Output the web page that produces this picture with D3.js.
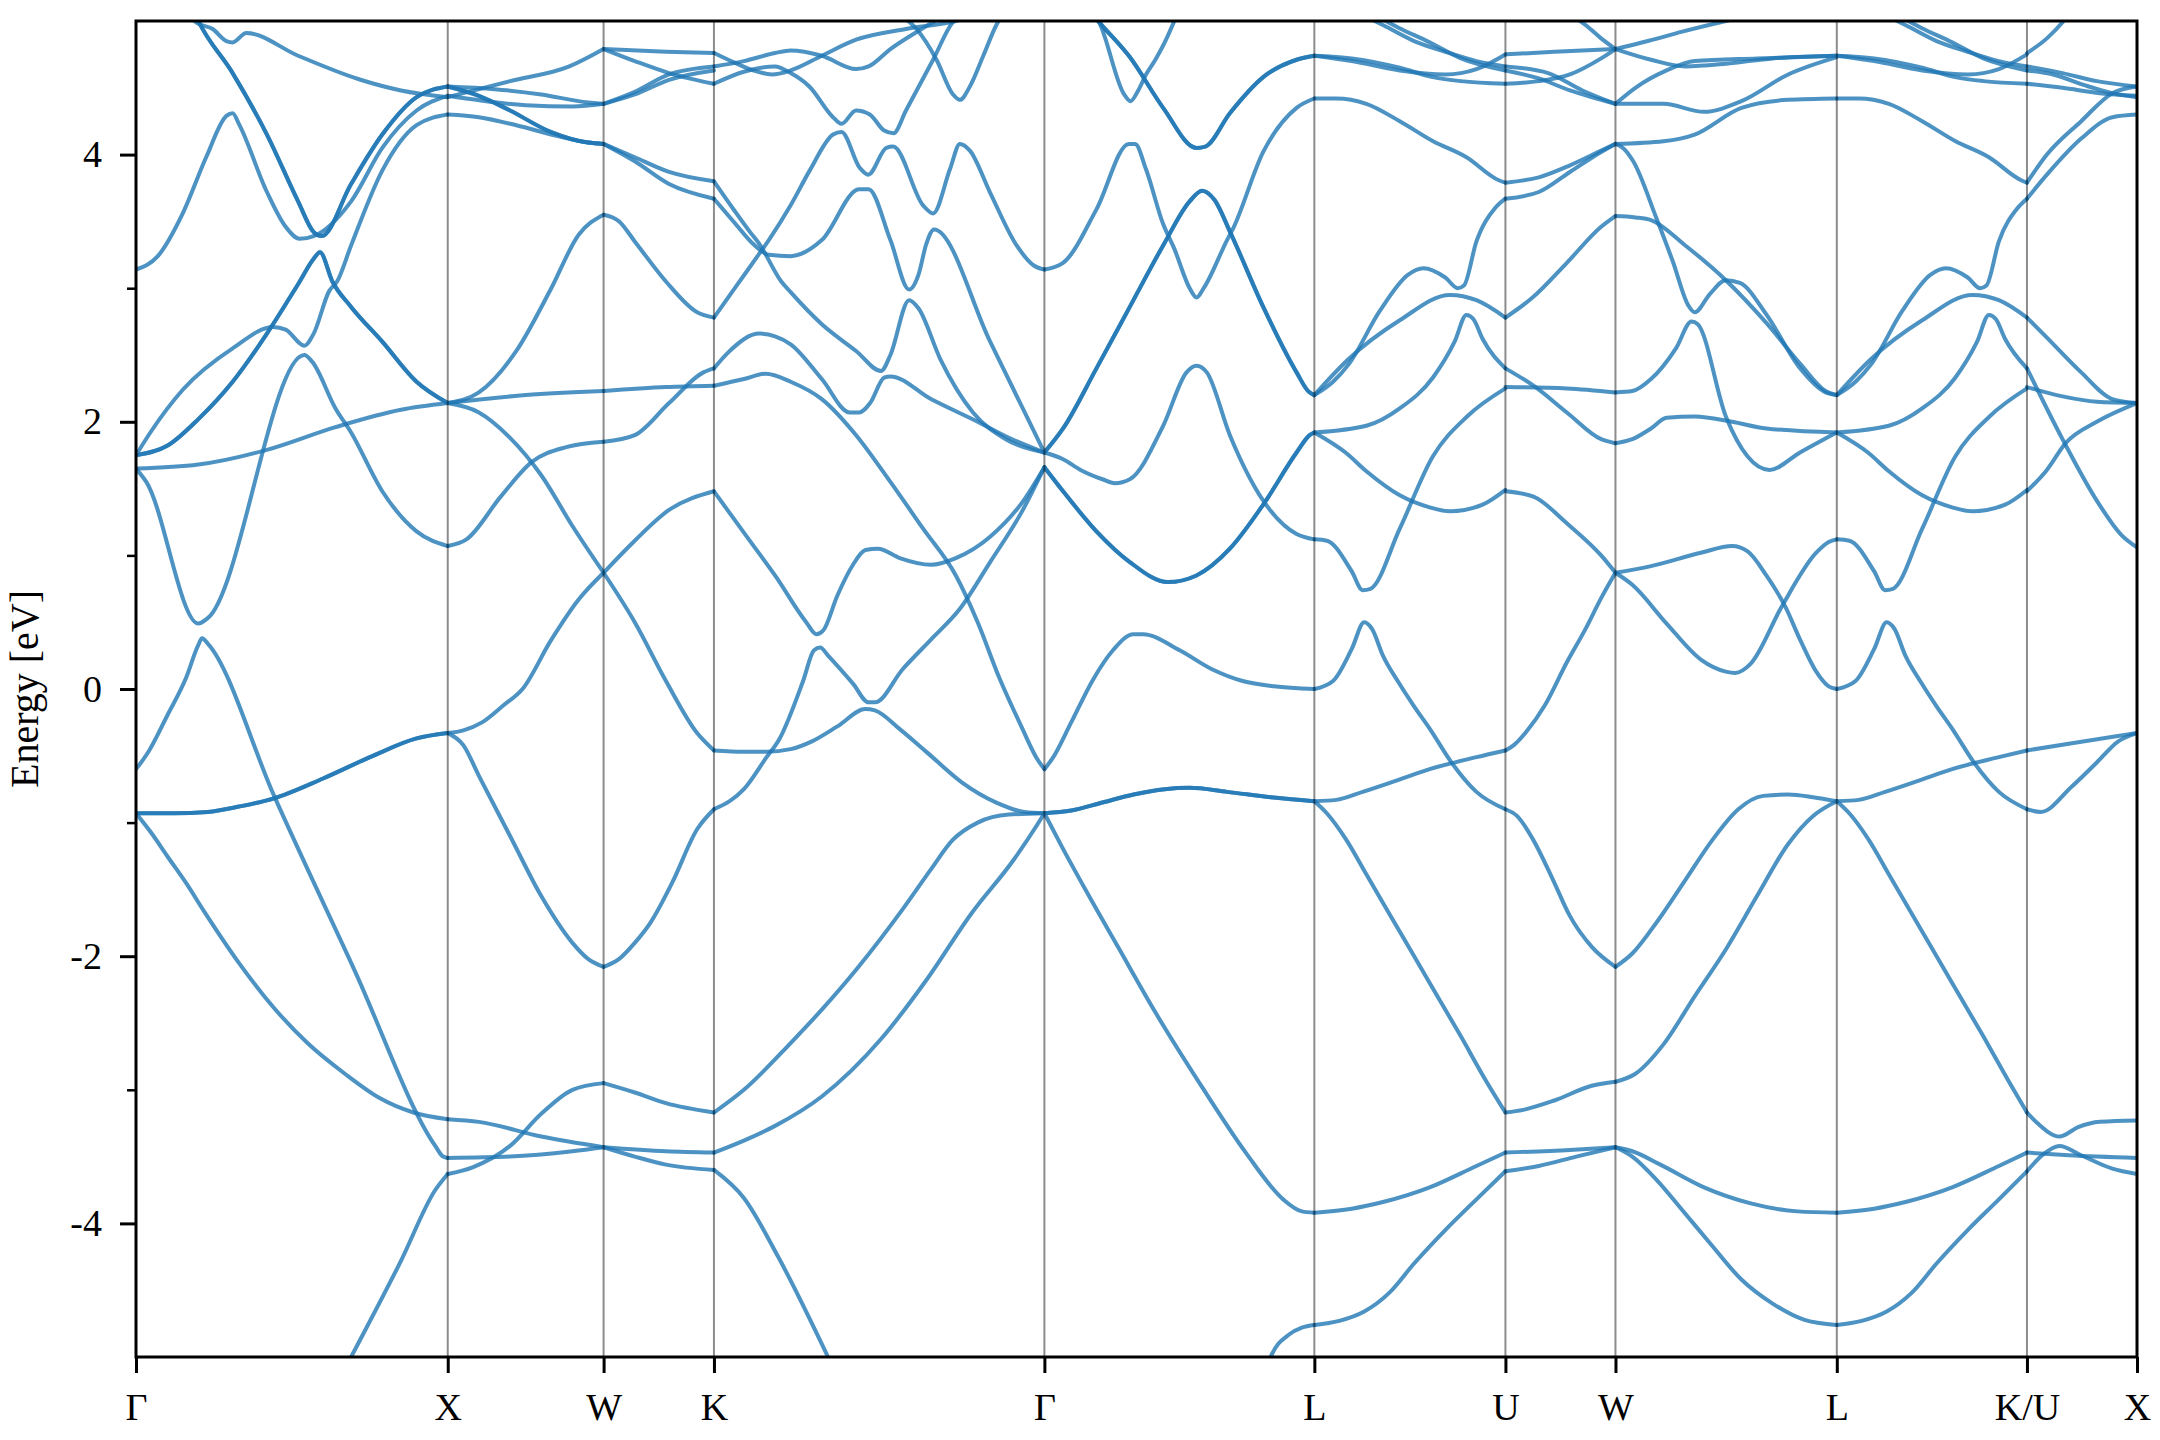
<!DOCTYPE html>
<html><head><meta charset="utf-8">
<script src="https://cdn.jsdelivr.net/npm/d3@7"></script>
<style>body{margin:0;background:#fff;} svg{display:block;} text{font-family:"Liberation Serif","Times New Roman",serif;}</style>
</head><body><svg id="c" width="2160" height="1440"></svg>
<script>
// ---- data ----
const kLabels = ["Γ","X","W","K","Γ","L","U","W","L","K/U","X"];
const kTicks  = [0, 1.0, 1.5, 1.854, 2.914, 3.78, 4.393, 4.746, 5.456, 6.066, 6.419];
const energyTicks = [-4,-2,0,2,4];
const energyMinor = [-3,-1,1,3];
const energyRange = [-5,5];
const yLabel = "Energy [eV]";

// band pieces: m = degeneracy (number of overlapping bands), p = [k, E] points
const bandsGX = [
 {m:2,p:[[0,-0.93],[0.12,-0.93],[0.23,-0.92],[0.33,-0.88],[0.44,-0.82],[0.6,-0.67],[0.76,-0.5],[0.9,-0.37],[1,-0.33]]},
 {m:1,p:[[0,-0.93],[0.05,-1.08],[0.1,-1.25],[0.16,-1.45],[0.22,-1.67],[0.33,-2.05],[0.44,-2.38],[0.55,-2.65],[0.67,-2.88],[0.78,-3.06],[0.89,-3.17],[1,-3.22]]},
 {m:1,p:[[0,-0.6],[0.04,-0.47],[0.1,-0.2],[0.16,0.08],[0.2,0.33],[0.212,0.38],[0.23,0.34],[0.443,-0.8],[0.7,-2.1],[0.96,-3.42],[0.985,-3.5],[1,-3.51]]},
 {m:1,p:[[0.6,-5.4],[0.69,-5.0],[0.85,-4.28],[0.96,-3.75],[1,-3.63]]},
 {m:1,p:[[0,1.65],[0.033,1.55],[0.2,0.49],[0.23,0.53],[0.54,2.5],[0.565,2.45],[0.64,2.1],[0.69,1.92],[0.79,1.48],[0.9,1.18],[1,1.07]]},
 {m:1,p:[[0,1.65],[0.2,1.68],[0.42,1.79],[0.64,1.96],[0.85,2.09],[1,2.14]]},
 {m:2,p:[[0,1.75],[0.1,1.82],[0.2,2.02],[0.31,2.3],[0.42,2.66],[0.52,3.03],[0.57,3.22],[0.59,3.27],[0.63,3.05],[0.69,2.86],[0.79,2.6],[0.9,2.3],[1,2.14]]},
 {m:1,p:[[0,1.75],[0.046,1.92],[0.15,2.24],[0.31,2.55],[0.44,2.71],[0.48,2.69],[0.54,2.57],[0.57,2.66],[0.62,2.98],[0.645,3.05],[0.69,3.32],[0.79,3.88],[0.9,4.22],[1,4.30]]},
 {m:1,p:[[0,3.14],[0.07,3.24],[0.15,3.56],[0.225,3.98],[0.29,4.29],[0.31,4.31],[0.33,4.23],[0.42,3.72],[0.48,3.46],[0.525,3.37],[0.57,3.39],[0.69,3.65],[0.79,4.05],[0.9,4.33],[1,4.44]]},
 {m:2,p:[[0.19,5.05],[0.2,5.0],[0.31,4.61],[0.42,4.15],[0.52,3.65],[0.57,3.42],[0.595,3.39],[0.69,3.78],[0.79,4.15],[0.9,4.43],[1,4.51]]},
 {m:1,p:[[0.17,5.05],[0.193,4.99],[0.246,4.94],[0.29,4.85],[0.31,4.84],[0.354,4.91],[0.52,4.74],[0.72,4.56],[0.85,4.48],[1,4.43]]}
];
const bandsXW = [
 {m:1,p:[[1,4.43],[1.2,4.55],[1.39,4.66],[1.5,4.79]]},
 {m:1,p:[[1,4.51],[1.15,4.49],[1.3,4.45],[1.45,4.39],[1.5,4.38]]},
 {m:1,p:[[1,4.44],[1.25,4.37],[1.4,4.36],[1.5,4.38]]},
 {m:2,p:[[1,4.51],[1.1,4.44],[1.2,4.33],[1.33,4.17],[1.45,4.09],[1.5,4.08]]},
 {m:1,p:[[1,4.30],[1.1,4.28],[1.22,4.22],[1.35,4.14],[1.45,4.09],[1.5,4.08]]},
 {m:1,p:[[1,2.14],[1.1,2.22],[1.22,2.53],[1.33,2.99],[1.42,3.4],[1.5,3.55]]},
 {m:1,p:[[1,2.14],[1.25,2.2],[1.5,2.23]]},
 {m:1,p:[[1,1.07],[1.06,1.12],[1.17,1.44],[1.27,1.7],[1.38,1.81],[1.5,1.85]]},
 {m:1,p:[[1,2.14],[1.1,2.07],[1.2,1.88],[1.3,1.6],[1.4,1.22],[1.5,0.87]]},
 {m:1,p:[[1,-0.33],[1.05,-0.31],[1.11,-0.25],[1.18,-0.12],[1.24,0.0],[1.33,0.36],[1.42,0.67],[1.5,0.87]]},
 {m:1,p:[[1,-0.33],[1.05,-0.42],[1.1,-0.65],[1.2,-1.1],[1.3,-1.55],[1.4,-1.9],[1.45,-2.02],[1.5,-2.08]]},
 {m:1,p:[[1,-3.22],[1.1,-3.24],[1.3,-3.35],[1.5,-3.43]]},
 {m:1,p:[[1,-3.51],[1.2,-3.5],[1.4,-3.46],[1.5,-3.43]]},
 {m:1,p:[[1,-3.63],[1.08,-3.58],[1.2,-3.42],[1.3,-3.18],[1.4,-3.0],[1.5,-2.95]]}
];
const bandsWK = [
 {m:1,p:[[1.5,4.79],[1.7,4.77],[1.854,4.76]]},
 {m:1,p:[[1.5,4.79],[1.6,4.7],[1.71,4.61],[1.854,4.53]]},
 {m:1,p:[[1.5,4.38],[1.6,4.47],[1.71,4.6],[1.854,4.66]]},
 {m:1,p:[[1.5,4.38],[1.6,4.45],[1.71,4.56],[1.854,4.63]]},
 {m:1,p:[[1.5,4.08],[1.6,3.98],[1.71,3.87],[1.854,3.80]]},
 {m:1,p:[[1.5,4.08],[1.6,3.95],[1.71,3.78],[1.854,3.67]]},
 {m:1,p:[[1.5,3.55],[1.55,3.5],[1.6,3.35],[1.7,3.05],[1.8,2.82],[1.854,2.78]]},
 {m:1,p:[[1.5,2.23],[1.7,2.26],[1.854,2.27]]},
 {m:1,p:[[1.5,1.85],[1.6,1.9],[1.71,2.14],[1.82,2.37],[1.854,2.4]]},
 {m:1,p:[[1.5,0.87],[1.6,1.11],[1.71,1.34],[1.854,1.48]]},
 {m:1,p:[[1.5,0.87],[1.6,0.5],[1.7,0.06],[1.8,-0.33],[1.854,-0.46]]},
 {m:1,p:[[1.5,-2.08],[1.55,-2.02],[1.6,-1.9],[1.65,-1.75],[1.72,-1.45],[1.8,-1.05],[1.854,-0.9]]},
 {m:1,p:[[1.5,-2.95],[1.6,-3.02],[1.7,-3.1],[1.854,-3.17]]},
 {m:1,p:[[1.5,-3.43],[1.7,-3.46],[1.854,-3.47]]},
 {m:1,p:[[1.5,-3.43],[1.6,-3.5],[1.7,-3.56],[1.854,-3.6]]}
];
const bandsKG = [
 {m:1,p:[[1.854,4.76],[1.9,4.71],[1.98,4.63],[2.04,4.6],[2.1,4.63],[2.2,4.74],[2.31,4.86],[2.47,4.94],[2.63,5.0],[2.7,5.05]]},
 {m:1,p:[[1.854,4.66],[1.95,4.7],[2.05,4.76],[2.1,4.78],[2.2,4.74],[2.31,4.64],[2.35,4.66],[2.42,4.79],[2.52,4.94],[2.6,5.05]]},
 {m:1,p:[[1.854,4.53],[1.95,4.62],[2.05,4.66],[2.1,4.61],[2.16,4.51],[2.236,4.28],[2.263,4.23],[2.31,4.33],[2.354,4.3],[2.4,4.18],[2.43,4.16],[2.47,4.33],[2.557,4.71],[2.62,4.99],[2.65,5.05]]},
 {m:1,p:[[2.45,5.05],[2.504,4.94],[2.568,4.71],[2.621,4.45],[2.643,4.41],[2.675,4.51],[2.718,4.74],[2.76,4.97],[2.78,5.05]]},
 {m:1,p:[[1.854,2.78],[1.93,3.03],[2.0,3.26],[2.03,3.36],[2.1,3.62],[2.161,3.88],[2.236,4.15],[2.263,4.17],[2.322,3.9],[2.349,3.85],[2.407,4.05],[2.429,4.06],[2.525,3.62],[2.557,3.56],[2.611,3.89],[2.643,4.08],[2.675,4.03],[2.739,3.72],[2.825,3.32],[2.88,3.17],[2.914,3.14]]},
 {m:1,p:[[1.854,3.80],[1.92,3.58],[1.97,3.42],[2.0,3.33],[2.07,3.05],[2.1,2.97],[2.2,2.73],[2.31,2.53],[2.39,2.38],[2.42,2.5],[2.48,2.91],[2.51,2.85],[2.58,2.47],[2.685,2.07],[2.79,1.87],[2.914,1.77]]},
 {m:1,p:[[1.854,3.67],[1.92,3.49],[1.98,3.33],[2.03,3.25],[2.1,3.24],[2.2,3.36],[2.32,3.74],[2.35,3.74],[2.42,3.36],[2.48,2.99],[2.51,3.1],[2.535,3.33],[2.56,3.44],[2.74,2.6],[2.914,1.77]]},
 {m:1,p:[[1.854,2.40],[1.9,2.52],[2.0,2.66],[2.05,2.64],[2.1,2.58],[2.2,2.32],[2.29,2.07],[2.32,2.07],[2.355,2.14],[2.4,2.33],[2.42,2.34],[2.55,2.17],[2.7,2.0],[2.8,1.88],[2.914,1.77]]},
 {m:1,p:[[1.854,2.27],[1.95,2.32],[2.02,2.36],[2.1,2.3],[2.2,2.17],[2.31,1.9],[2.42,1.55],[2.525,1.2],[2.63,0.85],[2.7,0.5],[2.77,0.08],[2.84,-0.28],[2.89,-0.52],[2.914,-0.6]]},
 {m:1,p:[[1.854,1.48],[1.95,1.17],[2.05,0.85],[2.15,0.5],[2.183,0.41],[2.205,0.44],[2.25,0.7],[2.3,0.93],[2.34,1.04],[2.38,1.05],[2.45,0.98],[2.55,0.93],[2.63,0.98],[2.74,1.14],[2.85,1.42],[2.914,1.66]]},
 {m:1,p:[[1.854,-0.9],[1.95,-0.75],[2.02,-0.52],[2.065,-0.37],[2.14,0.06],[2.175,0.29],[2.195,0.31],[2.22,0.25],[2.3,0.04],[2.35,-0.1],[2.37,-0.1],[2.46,0.15],[2.55,0.37],[2.643,0.6],[2.74,0.95],[2.84,1.32],[2.914,1.66]]},
 {m:1,p:[[1.854,-0.46],[1.95,-0.47],[2.02,-0.47],[2.1,-0.45],[2.17,-0.39],[2.25,-0.28],[2.34,-0.15],[2.37,-0.16],[2.45,-0.3],[2.54,-0.48],[2.65,-0.7],[2.76,-0.85],[2.85,-0.92],[2.914,-0.93]]},
 {m:1,p:[[1.854,-3.17],[1.95,-3.0],[2.1,-2.65],[2.2,-2.4],[2.314,-2.09],[2.462,-1.64],[2.55,-1.35],[2.62,-1.13],[2.7,-1.0],[2.8,-0.94],[2.914,-0.93]]},
 {m:1,p:[[1.854,-3.47],[1.95,-3.38],[2.05,-3.27],[2.2,-3.05],[2.39,-2.62],[2.535,-2.18],[2.68,-1.68],[2.815,-1.28],[2.89,-1.02],[2.914,-0.93]]},
 {m:1,p:[[1.854,-3.6],[1.95,-3.81],[2.06,-4.25],[2.22,-5.0],[2.3,-5.4]]}
];
const bandsGL = [
 {m:2,p:[[2.914,1.77],[2.974,1.95],[3.081,2.4],[3.188,2.86],[3.295,3.32],[3.38,3.65],[3.42,3.73],[3.46,3.66],[3.51,3.42],[3.616,2.86],[3.723,2.37],[3.76,2.23],[3.78,2.2]]},
 {m:2,p:[[2.914,1.66],[2.974,1.48],[3.081,1.18],[3.188,0.95],[3.31,0.8],[3.402,0.85],[3.509,1.05],[3.616,1.38],[3.723,1.77],[3.765,1.9],[3.78,1.92]]},
 {m:1,p:[[2.914,1.77],[2.974,1.72],[3.03,1.64],[3.1,1.57],[3.14,1.54],[3.188,1.57],[3.295,1.97],[3.37,2.37],[3.402,2.42],[3.435,2.37],[3.509,1.9],[3.616,1.41],[3.723,1.16],[3.78,1.12]]},
 {m:1,p:[[2.914,3.14],[2.974,3.19],[3.081,3.59],[3.185,4.08],[3.205,4.08],[3.24,3.89],[3.295,3.48],[3.33,3.3],[3.38,3.0],[3.402,2.93],[3.425,3.0],[3.5,3.36],[3.52,3.45],[3.616,4.02],[3.723,4.35],[3.78,4.42]]},
 {m:2,p:[[3.05,5.1],[3.09,4.99],[3.188,4.73],[3.295,4.35],[3.402,4.05],[3.43,4.06],[3.509,4.31],[3.616,4.58],[3.723,4.71],[3.78,4.74]]},
 {m:1,p:[[3.06,5.1],[3.09,4.99],[3.17,4.45],[3.19,4.4],[3.215,4.48],[3.24,4.6],[3.27,4.71],[3.3,4.84],[3.34,5.05]]},
 {m:2,p:[[2.914,-0.93],[3.0,-0.91],[3.1,-0.85],[3.2,-0.79],[3.3,-0.75],[3.38,-0.74],[3.5,-0.77],[3.64,-0.81],[3.78,-0.84]]},
 {m:1,p:[[2.914,-0.93],[2.97,-1.18],[3.05,-1.52],[3.15,-1.93],[3.27,-2.42],[3.42,-2.98],[3.56,-3.47],[3.68,-3.82],[3.74,-3.91],[3.78,-3.92]]},
 {m:1,p:[[3.6,-5.3],[3.64,-5.0],[3.7,-4.83],[3.74,-4.78],[3.78,-4.76]]},
 {m:1,p:[[2.914,-0.6],[2.94,-0.52],[3.0,-0.25],[3.07,0.07],[3.134,0.29],[3.2,0.41],[3.23,0.41],[3.348,0.29],[3.45,0.15],[3.55,0.06],[3.65,0.02],[3.78,0.0]]}
];
const bandsLU = [
 {m:1,p:[[3.78,4.74],[3.9,4.72],[4.054,4.65],[4.16,4.58],[4.25,4.55],[4.393,4.53]]},
 {m:1,p:[[3.78,4.74],[3.9,4.7],[4.054,4.63],[4.2,4.6],[4.3,4.64],[4.393,4.75]]},
 {m:1,p:[[3.93,5.05],[4.0,4.97],[4.1,4.85],[4.2,4.77],[4.3,4.7],[4.393,4.66]]},
 {m:1,p:[[3.97,5.05],[4.05,4.95],[4.15,4.84],[4.25,4.72],[4.393,4.63]]},
 {m:1,p:[[3.78,4.42],[3.85,4.42],[3.947,4.38],[4.054,4.25],[4.161,4.1],[4.268,3.98],[4.37,3.81],[4.393,3.79]]},
 {m:1,p:[[3.78,2.2],[3.84,2.3],[3.89,2.43],[3.99,2.83],[4.08,3.1],[4.13,3.15],[4.2,3.08],[4.24,3.0],[4.26,3.02],[4.3,3.35],[4.36,3.6],[4.393,3.67]]},
 {m:1,p:[[3.78,2.2],[3.89,2.47],[4.054,2.76],[4.215,2.95],[4.3,2.91],[4.393,2.78]]},
 {m:1,p:[[3.78,1.92],[3.947,1.97],[4.054,2.1],[4.16,2.33],[4.23,2.6],[4.268,2.8],[4.29,2.77],[4.32,2.62],[4.393,2.4]]},
 {m:1,p:[[3.78,1.92],[3.88,1.77],[3.947,1.63],[4.054,1.45],[4.15,1.36],[4.215,1.33],[4.32,1.38],[4.393,1.49]]},
 {m:1,p:[[3.78,1.12],[3.82,1.11],[3.9,0.88],[3.935,0.74],[3.96,0.75],[4.054,1.2],[4.16,1.74],[4.27,2.04],[4.393,2.25]]},
 {m:1,p:[[3.78,0.0],[3.84,0.06],[3.9,0.3],[3.94,0.5],[3.965,0.45],[4.0,0.25],[4.05,0.05],[4.1,-0.13],[4.151,-0.3],[4.22,-0.55],[4.3,-0.77],[4.393,-0.9]]},
 {m:1,p:[[3.78,-0.84],[3.85,-0.83],[3.935,-0.77],[4.05,-0.68],[4.15,-0.6],[4.3,-0.51],[4.393,-0.46]]},
 {m:1,p:[[3.78,-0.84],[3.82,-0.93],[3.88,-1.12],[3.95,-1.4],[4.05,-1.8],[4.15,-2.2],[4.25,-2.6],[4.33,-2.93],[4.393,-3.17]]},
 {m:1,p:[[3.78,-3.92],[3.9,-3.89],[4.0,-3.84],[4.15,-3.73],[4.3,-3.57],[4.393,-3.47]]},
 {m:1,p:[[3.78,-4.76],[3.86,-4.73],[3.94,-4.66],[4.02,-4.52],[4.1,-4.3],[4.2,-4.05],[4.3,-3.82],[4.393,-3.61]]}
];
const bandsUW = [
 {m:1,p:[[4.393,4.75],[4.55,4.77],[4.746,4.79]]},
 {m:1,p:[[4.393,4.66],[4.53,4.61],[4.64,4.48],[4.746,4.38]]},
 {m:1,p:[[4.393,4.53],[4.5,4.55],[4.6,4.6],[4.7,4.72],[4.746,4.79]]},
 {m:1,p:[[4.393,4.63],[4.5,4.57],[4.6,4.48],[4.746,4.38]]},
 {m:1,p:[[4.6,5.05],[4.65,4.97],[4.7,4.87],[4.746,4.79]]},
 {m:1,p:[[4.393,3.79],[4.5,3.83],[4.6,3.92],[4.7,4.03],[4.746,4.08]]},
 {m:1,p:[[4.393,3.67],[4.5,3.72],[4.6,3.87],[4.7,4.02],[4.746,4.08]]},
 {m:1,p:[[4.393,2.78],[4.48,2.93],[4.59,3.19],[4.7,3.46],[4.746,3.54]]},
 {m:1,p:[[4.393,2.4],[4.483,2.27],[4.59,2.07],[4.7,1.87],[4.746,1.84]]},
 {m:1,p:[[4.393,2.26],[4.59,2.25],[4.746,2.22]]},
 {m:1,p:[[4.393,1.48],[4.483,1.44],[4.59,1.24],[4.7,1.0],[4.746,0.87]]},
 {m:1,p:[[4.393,-0.46],[4.42,-0.42],[4.46,-0.32],[4.52,-0.12],[4.59,0.2],[4.65,0.45],[4.7,0.68],[4.746,0.87]]},
 {m:1,p:[[4.393,-0.9],[4.43,-0.95],[4.48,-1.12],[4.54,-1.4],[4.6,-1.7],[4.67,-1.93],[4.746,-2.08]]},
 {m:1,p:[[4.393,-3.17],[4.45,-3.15],[4.55,-3.08],[4.67,-2.97],[4.746,-2.94]]},
 {m:1,p:[[4.393,-3.47],[4.6,-3.45],[4.746,-3.43]]},
 {m:1,p:[[4.393,-3.61],[4.5,-3.57],[4.62,-3.5],[4.746,-3.43]]}
];
const bandsWL = [
 {m:1,p:[[4.746,4.79],[4.85,4.85],[4.96,4.92],[5.1,5.0],[5.2,5.05]]},
 {m:1,p:[[4.746,4.79],[4.86,4.71],[4.97,4.66],[5.1,4.68],[5.25,4.72],[5.456,4.74]]},
 {m:1,p:[[4.746,4.38],[4.81,4.5],[4.91,4.63],[5.0,4.7],[5.2,4.72],[5.456,4.74]]},
 {m:1,p:[[4.746,4.38],[4.9,4.38],[5.03,4.32],[5.15,4.4],[5.3,4.6],[5.456,4.73]]},
 {m:1,p:[[4.746,4.08],[4.9,4.1],[5.0,4.15],[5.15,4.35],[5.3,4.41],[5.456,4.42]]},
 {m:1,p:[[4.746,4.08],[4.77,4.05],[4.803,3.95],[4.878,3.52],[4.93,3.2],[4.98,2.87],[5.0,2.82],[5.05,2.96],[5.1,3.06],[5.145,3.04],[5.231,2.8],[5.338,2.4],[5.42,2.22],[5.456,2.2]]},
 {m:1,p:[[4.746,3.54],[4.81,3.53],[4.86,3.51],[4.97,3.32],[5.1,3.06],[5.23,2.74],[5.34,2.43],[5.42,2.23],[5.456,2.2]]},
 {m:1,p:[[4.746,2.22],[4.8,2.23],[4.86,2.32],[4.94,2.55],[4.99,2.75],[5.01,2.73],[5.1,2.04],[5.17,1.74],[5.24,1.64],[5.338,1.77],[5.456,1.92]]},
 {m:1,p:[[4.746,1.84],[4.8,1.87],[4.86,1.95],[4.91,2.03],[5.0,2.04],[5.12,2.0],[5.23,1.95],[5.456,1.92]]},
 {m:1,p:[[4.746,0.87],[4.86,0.92],[5.02,1.02],[5.12,1.07],[5.17,1.03],[5.23,0.85],[5.29,0.62],[5.34,0.36],[5.39,0.13],[5.43,0.02],[5.456,0.0]]},
 {m:1,p:[[4.746,0.87],[4.8,0.78],[4.91,0.49],[5.02,0.22],[5.1,0.13],[5.13,0.12],[5.18,0.19],[5.28,0.62],[5.39,1.02],[5.43,1.1],[5.456,1.12]]},
 {m:1,p:[[4.746,-2.08],[4.8,-1.98],[4.88,-1.74],[4.97,-1.43],[5.06,-1.12],[5.14,-0.9],[5.22,-0.8],[5.3,-0.79],[5.38,-0.81],[5.456,-0.84]]},
 {m:1,p:[[4.746,-2.94],[4.81,-2.88],[4.9,-2.66],[5.0,-2.3],[5.1,-1.95],[5.2,-1.55],[5.3,-1.16],[5.38,-0.95],[5.456,-0.84]]},
 {m:1,p:[[4.746,-3.43],[4.8,-3.46],[4.89,-3.56],[5.03,-3.73],[5.18,-3.85],[5.33,-3.91],[5.456,-3.92]]},
 {m:1,p:[[4.746,-3.43],[4.8,-3.5],[4.88,-3.68],[4.96,-3.9],[5.05,-4.15],[5.15,-4.42],[5.25,-4.6],[5.35,-4.72],[5.456,-4.76]]}
];
const bandsLK = [
 {m:1,p:[[5.456,4.74],[5.576,4.72],[5.73,4.65],[5.836,4.58],[5.926,4.55],[6.066,4.53]]},
 {m:1,p:[[5.456,4.74],[5.576,4.7],[5.73,4.63],[5.876,4.6],[5.976,4.64],[6.066,4.75]]},
 {m:1,p:[[5.606,5.05],[5.676,4.97],[5.776,4.85],[5.876,4.77],[5.976,4.7],[6.066,4.66]]},
 {m:1,p:[[5.646,5.05],[5.726,4.95],[5.826,4.84],[5.926,4.72],[6.066,4.63]]},
 {m:1,p:[[5.456,4.42],[5.526,4.42],[5.623,4.38],[5.73,4.25],[5.837,4.1],[5.944,3.98],[6.046,3.81],[6.066,3.79]]},
 {m:1,p:[[5.456,2.2],[5.516,2.3],[5.566,2.43],[5.666,2.83],[5.756,3.1],[5.806,3.15],[5.876,3.08],[5.916,3.0],[5.936,3.02],[5.976,3.35],[6.036,3.6],[6.066,3.67]]},
 {m:1,p:[[5.456,2.2],[5.566,2.47],[5.73,2.76],[5.891,2.95],[5.976,2.91],[6.066,2.78]]},
 {m:1,p:[[5.456,1.92],[5.623,1.97],[5.73,2.1],[5.836,2.33],[5.906,2.6],[5.944,2.8],[5.966,2.77],[5.996,2.62],[6.066,2.4]]},
 {m:1,p:[[5.456,1.92],[5.556,1.77],[5.623,1.63],[5.73,1.45],[5.826,1.36],[5.891,1.33],[5.996,1.38],[6.066,1.49]]},
 {m:1,p:[[5.456,1.12],[5.496,1.11],[5.576,0.88],[5.611,0.74],[5.636,0.75],[5.73,1.2],[5.836,1.74],[5.946,2.04],[6.066,2.25]]},
 {m:1,p:[[5.456,0.0],[5.516,0.06],[5.576,0.3],[5.616,0.5],[5.641,0.45],[5.676,0.25],[5.726,0.05],[5.776,-0.13],[5.827,-0.3],[5.896,-0.55],[5.976,-0.77],[6.066,-0.9]]},
 {m:1,p:[[5.456,-0.84],[5.526,-0.83],[5.611,-0.77],[5.726,-0.68],[5.826,-0.6],[5.976,-0.51],[6.066,-0.46]]},
 {m:1,p:[[5.456,-0.84],[5.496,-0.93],[5.556,-1.12],[5.626,-1.4],[5.726,-1.8],[5.826,-2.2],[5.926,-2.6],[6.006,-2.93],[6.066,-3.17]]},
 {m:1,p:[[5.456,-3.92],[5.576,-3.89],[5.676,-3.84],[5.826,-3.73],[5.976,-3.57],[6.066,-3.47]]},
 {m:1,p:[[5.456,-4.76],[5.536,-4.73],[5.616,-4.66],[5.696,-4.52],[5.776,-4.3],[5.876,-4.05],[5.976,-3.82],[6.066,-3.61]]}
];
const bandsKX = [
 {m:1,p:[[6.066,4.76],[6.13,4.87],[6.18,4.99],[6.2,5.05]]},
 {m:1,p:[[6.066,4.66],[6.18,4.61],[6.29,4.55],[6.419,4.51]]},
 {m:1,p:[[6.066,4.63],[6.15,4.6],[6.25,4.52],[6.34,4.46],[6.419,4.43]]},
 {m:1,p:[[6.066,4.53],[6.18,4.5],[6.3,4.46],[6.419,4.44]]},
 {m:1,p:[[6.066,3.79],[6.13,4.0],[6.24,4.25],[6.34,4.46],[6.419,4.51]]},
 {m:1,p:[[6.066,3.67],[6.13,3.85],[6.24,4.12],[6.34,4.28],[6.419,4.30]]},
 {m:1,p:[[6.066,2.78],[6.13,2.63],[6.24,2.37],[6.34,2.17],[6.419,2.14]]},
 {m:1,p:[[6.066,2.4],[6.18,1.87],[6.29,1.41],[6.37,1.15],[6.419,1.06]]},
 {m:1,p:[[6.066,2.26],[6.18,2.19],[6.29,2.15],[6.419,2.14]]},
 {m:1,p:[[6.066,1.48],[6.13,1.64],[6.19,1.84],[6.29,2.0],[6.419,2.14]]},
 {m:1,p:[[6.066,-0.46],[6.2,-0.41],[6.419,-0.33]]},
 {m:1,p:[[6.066,-0.9],[6.11,-0.92],[6.21,-0.73],[6.29,-0.55],[6.36,-0.39],[6.419,-0.33]]},
 {m:1,p:[[6.066,-3.17],[6.1,-3.25],[6.17,-3.35],[6.23,-3.28],[6.3,-3.24],[6.419,-3.23]]},
 {m:1,p:[[6.066,-3.47],[6.2,-3.49],[6.419,-3.51]]},
 {m:1,p:[[6.066,-3.61],[6.12,-3.48],[6.17,-3.42],[6.24,-3.49],[6.34,-3.59],[6.419,-3.63]]}
];
const allSegments = [bandsGX, bandsXW, bandsWK, bandsKG, bandsGL, bandsLU, bandsUW, bandsWL, bandsLK, bandsKX];

// ---- drawing ----
const svg = d3.select("#c");
const mg = {l:136, r:2137, t:21, b:1357};
const x = d3.scaleLinear().domain([kTicks[0], kTicks[kTicks.length-1]]).range([mg.l, mg.r]);
const y = d3.scaleLinear().domain(energyRange).range([mg.b, mg.t]);

svg.append("rect").attr("width",2160).attr("height",1440).attr("fill","#fff");
svg.append("defs").append("clipPath").attr("id","clip")
  .append("rect").attr("x",mg.l).attr("y",mg.t).attr("width",mg.r-mg.l).attr("height",mg.b-mg.t);

const line = d3.line().x(d=>x(d[0])).y(d=>y(d[1])).curve(d3.curveMonotoneX);
const gB = svg.append("g").attr("clip-path","url(#clip)");
const flat = [];
allSegments.forEach(seg => seg.forEach(b => { for (let i=0;i<b.m;i++) flat.push(b.p); }));
gB.selectAll("path.band").data(flat).join("path")
  .attr("class","band").attr("d", line)
  .attr("fill","none").attr("stroke","#1f77b4").attr("stroke-opacity",0.8)
  .attr("stroke-width",4).attr("stroke-linejoin","round").attr("stroke-linecap","round");

// vertical high-symmetry lines
svg.append("g").selectAll("line").data(kTicks.slice(1,-1)).join("line")
  .attr("x1",d=>x(d)).attr("x2",d=>x(d)).attr("y1",mg.t).attr("y2",mg.b)
  .attr("stroke","#000").attr("stroke-opacity",0.45).attr("stroke-width",2);

// axes
const yAxis = d3.axisLeft(y).tickValues(energyTicks).tickSize(16).tickPadding(18).tickFormat(d=>String(d));
const gy = svg.append("g").attr("transform",`translate(${mg.l},0)`).call(yAxis);
gy.select(".domain").remove();
gy.selectAll(".tick line").attr("stroke","#000").attr("stroke-width",3);
gy.selectAll(".tick text").attr("font-size",38).attr("fill","#000")
  .style("font-family",'"Liberation Serif","Times New Roman",serif');
const yMinor = d3.axisLeft(y).tickValues(energyMinor).tickSize(9).tickFormat("");
const gym = svg.append("g").attr("transform",`translate(${mg.l},0)`).call(yMinor);
gym.select(".domain").remove();
gym.selectAll(".tick line").attr("stroke","#000").attr("stroke-width",2.5);

const xAxis = d3.axisBottom(x).tickValues(kTicks).tickSize(16).tickPadding(20).tickFormat((d,i)=>kLabels[i]);
const gx = svg.append("g").attr("transform",`translate(0,${mg.b})`).call(xAxis);
gx.select(".domain").remove();
gx.selectAll(".tick line").attr("stroke","#000").attr("stroke-width",3);
gx.selectAll(".tick text").attr("font-size",38).attr("fill","#000")
  .style("font-family",'"Liberation Serif","Times New Roman",serif');

// frame
svg.append("rect").attr("x",mg.l).attr("y",mg.t).attr("width",mg.r-mg.l).attr("height",mg.b-mg.t)
  .attr("fill","none").attr("stroke","#000").attr("stroke-width",3);

// y label
svg.append("text").attr("transform",`translate(38,${(mg.t+mg.b)/2}) rotate(-90)`)
  .attr("text-anchor","middle").attr("font-size",40).attr("fill","#000").text(yLabel);
</script></body></html>
